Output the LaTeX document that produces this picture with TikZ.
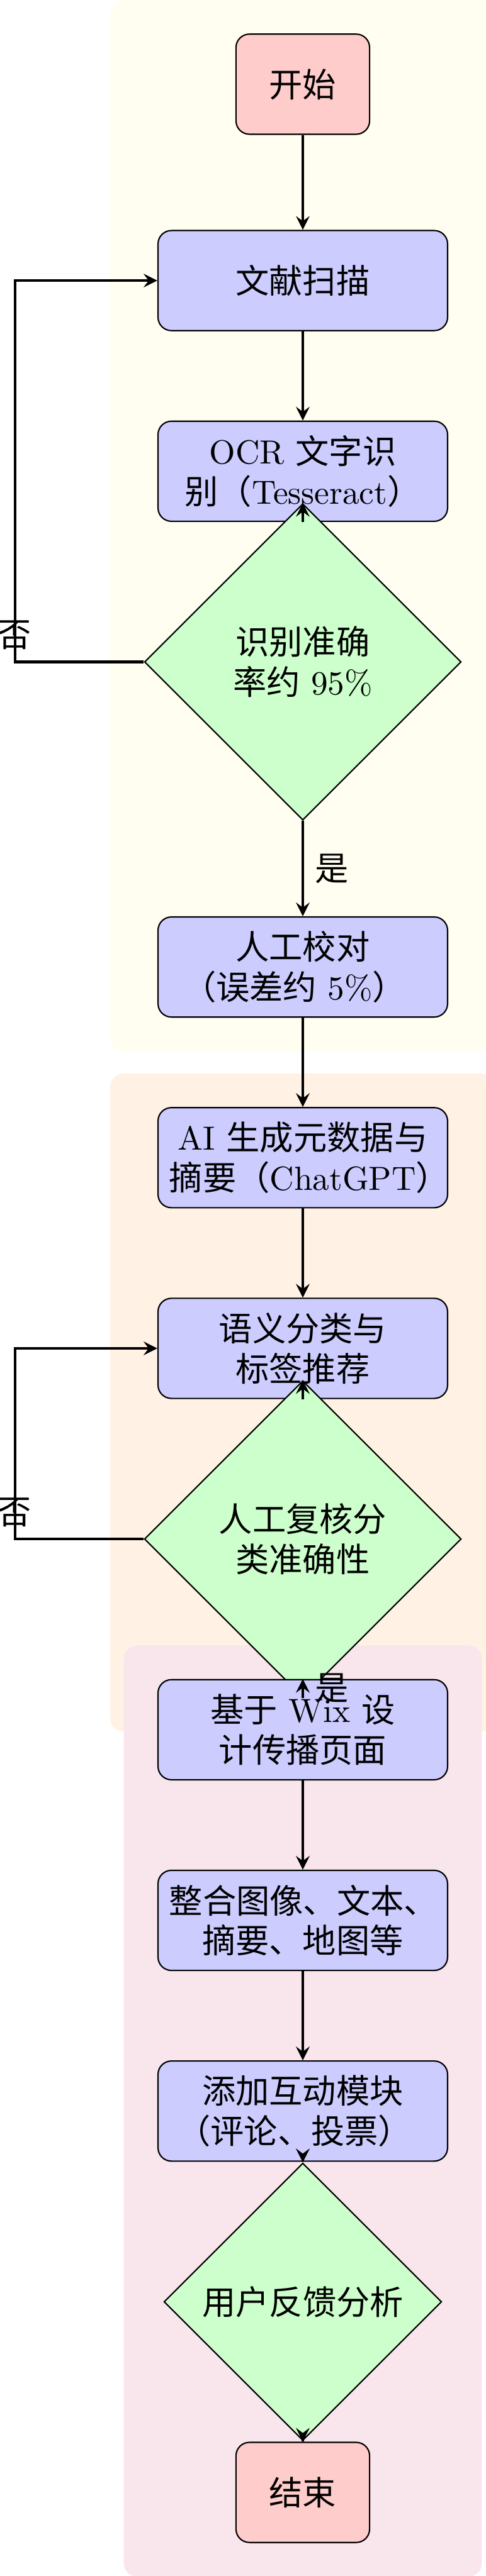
\documentclass[tikz,border=0pt]{standalone}
\usepackage{fontspec}
\newfontfamily\cjk{Noto Sans CJK SC}
\newcommand{\zh}[1]{{\cjk #1}}
\usepackage{tikz}
\usetikzlibrary{shapes.geometric, arrows, positioning, fit, backgrounds, calc}
\tikzstyle{arrow} = [thick,->,>=stealth]
\tikzstyle{startstop} = [rectangle, rounded corners, minimum width=1.4cm, minimum height=1.05cm, text centered, draw=black, fill=red!20, font=\cjk]
\tikzstyle{process} = [rectangle, rounded corners, minimum width=3cm, minimum height=1.05cm, text width=2.8cm, align=center, draw=black, fill=blue!20]
\tikzstyle{decision} = [diamond, aspect=1, minimum width=3.32cm, minimum height=3.32cm, text width=2.2cm, inner sep=0pt, align=center, draw=black, fill=green!20]
\tikzstyle{stage} = [rectangle, rounded corners, inner sep=10pt]

\begin{document}
\begin{tikzpicture}[node distance=2cm]
    \useasboundingbox (-3.173,0.883) rectangle (1.919,-26.137);

    % 数字化
    \node (start) [startstop] at (0,0) {开始};
    \node (scan) [process, below of=start, yshift=-0.06cm] {\zh{文献扫描}};
    \node (ocr) [process, below of=scan] {OCR \zh{文字识}\\\zh{别（}Tesseract\zh{）}\hspace*{-.5em}};
    \node (dec1) [decision, below of=ocr] {\zh{识别准确}\\\zh{率约} 95\%};
    \node (proof) [process, below of=dec1, yshift=-1.2cm] {\zh{人工校对}\\\hspace*{-.5em}\zh{（误差约} 5\%\zh{）}\hspace*{-.5em}};

    % AI 处理
    \node (ai) [process, below of=proof] {AI \zh{生成元数据与}\\\zh{摘要（}ChatGPT\zh{）}\hspace*{-.5em}};
    \node (classify) [process, below of=ai] {\zh{语义分类与}\\\zh{标签推荐}};
    \node (dec2) [decision, below of=classify] {\zh{人工复核分}\\\zh{类准确性}};

    % 传播
    \node (wix) [process, below of=dec2] {\zh{基于} Wix \zh{设}\\\zh{计传播页面}};
    \node (integrate) [process, below of=wix] {\zh{整合图像、文本、}\hspace*{-.5em}\\\zh{摘要、地图等}};
    \node (interact) [process, below of=integrate] {\zh{添加互动模块}\\\hspace*{-.5em}\zh{（评论、投票）}\hspace*{-.5em}};
    \node (dec3) [decision, below of=interact, minimum width=2.91cm, minimum height=2.91cm] {\zh{用户反馈分析}};
    \node (stop) [startstop, below of=dec3] {结束};

    % 箭头
    \draw [arrow] (start) -- (scan);
    \draw [arrow] (scan) -- (ocr);
    \draw [arrow] (ocr) -- (dec1);
    \draw [arrow] (dec1) -- node[right] {\zh{是}} (proof);
    \draw [arrow] (dec1.west) -- ++(-1.35,0) node[above] {\zh{否}} |- (scan.west);
    \draw [arrow] (proof) -- (ai);
    \draw [arrow] (ai) -- (classify);
    \draw [arrow] (classify) -- (dec2);
    \draw [arrow] (dec2) -- node[right] {\zh{是}} (wix);
    \draw [arrow] (dec2.west) -- ++(-1.35,0) node[above] {\zh{否}} |- (classify.west);
    \draw [arrow] (wix) -- (integrate);
    \draw [arrow] (integrate) -- (interact);
    \draw [arrow] (interact) -- (dec3);
    \draw [arrow] (dec3) -- (stop);

    % 阶段背景
    \begin{scope}[on background layer]
        \node [stage, fill=yellow!6, fit=(start)(scan)(ocr)(dec1)(proof)] {};
        \node [stage, fill=orange!10, fit=(ai)(classify)(dec2)] {};
        \node [stage, fill=purple!10, fit=(wix)(integrate)(interact)(dec3)(stop)] {};
    \end{scope}
\end{tikzpicture}
\end{document}
